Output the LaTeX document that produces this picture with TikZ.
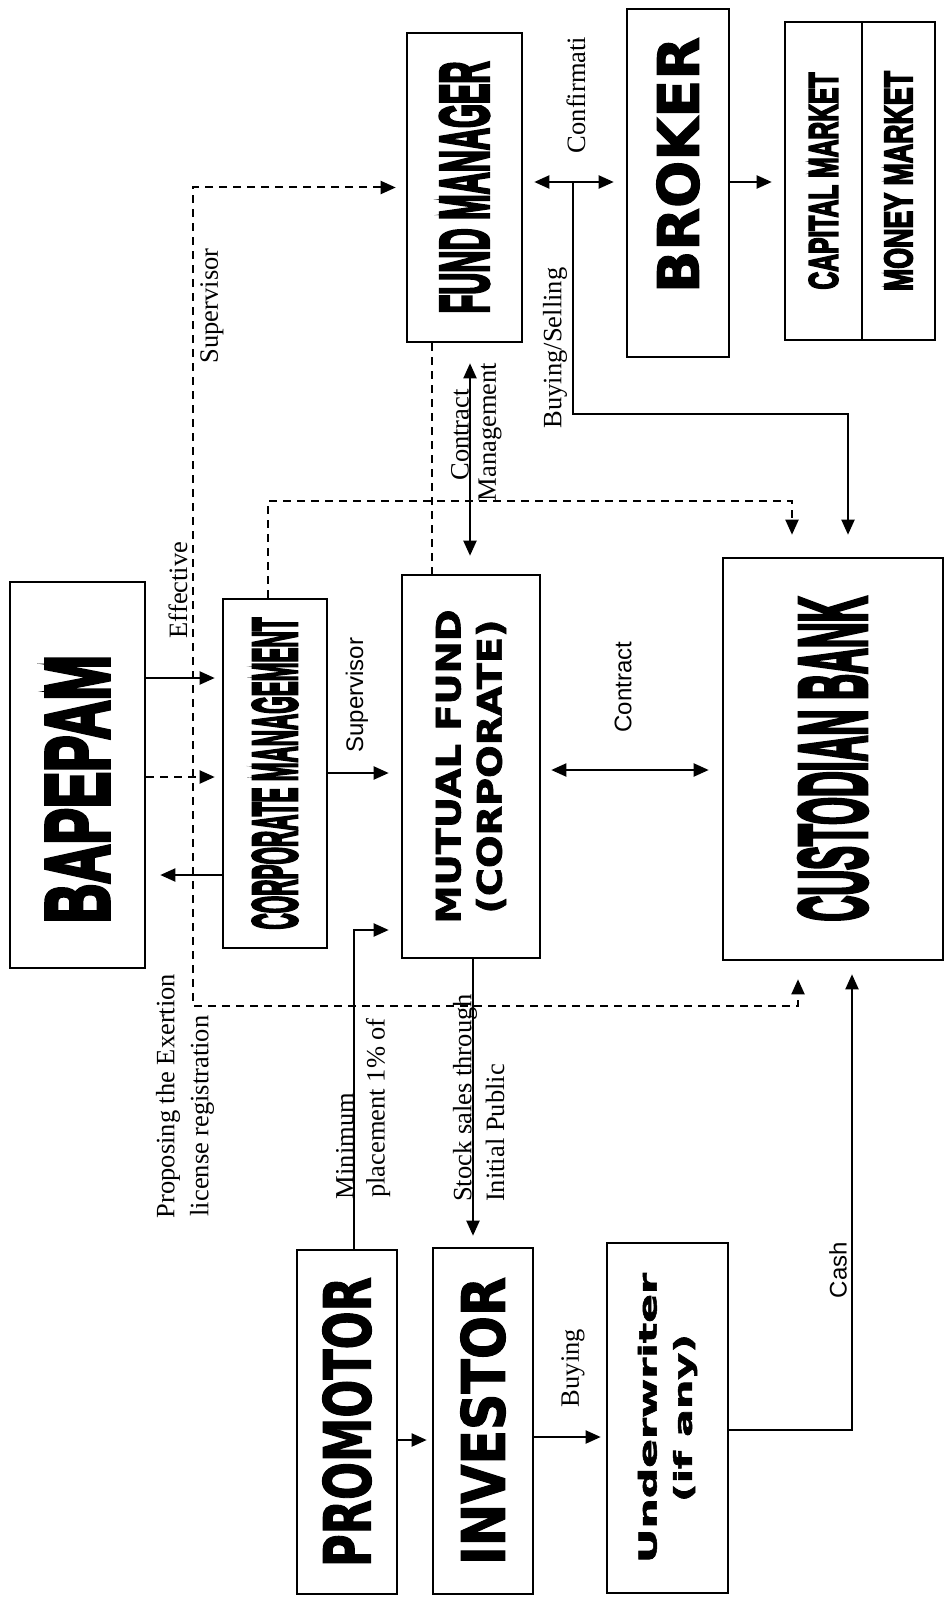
\documentclass[tikz,border=0pt]{standalone}
\usepackage{fontspec}
\setmainfont{Liberation Serif}
\setsansfont{Liberation Sans}
\newfontfamily\condfont[BoldFeatures={FakeBold=5}]{Liberation Sans}
\newfontfamily\widefont[BoldFeatures={FakeBold=2}]{DejaVu Sans}
\usetikzlibrary{arrows.meta}
\tikzset{
  >={Triangle[length=15pt,width=13pt]},
  box/.style={draw, line width=2.6pt, inner sep=0pt, anchor=center},
  lab/.style={rotate=90, inner sep=0pt, font=\fontsize{26.5}{28}\selectfont},
  slab/.style={rotate=90, inner sep=0pt, font=\sffamily\fontsize{24}{26}\selectfont},
  conn/.style={line width=2pt, ->},
  dconn/.style={line width=2pt, ->, dash pattern=on 8pt off 6pt},
  dline/.style={line width=2pt, dash pattern=on 8pt off 6pt}
}
\begin{document}
\begin{tikzpicture}[x=1pt,y=-1pt]
\fill[white] (0,0) rectangle (945,1597);
\useasboundingbox (0,0) rectangle (945,1597);

% boxes
\node[box, minimum width=135pt, minimum height=386pt] (bapepam) at (77.5,775)
  {\rotatebox{90}{\resizebox*{268pt}{62pt}{\condfont\bfseries BAPEPAM}\hspace{28pt}}};
\node[box, minimum width=104pt, minimum height=349pt] (corp) at (275,773.5)
  {\rotatebox{90}{\resizebox*{312pt}{45pt}{\condfont\bfseries CORPORATE MANAGEMENT}}};
\node[box, minimum width=115pt, minimum height=309pt] (fund) at (464.5,187.5)
  {\rotatebox{90}{\resizebox*{252pt}{49pt}{\condfont\bfseries FUND MANAGER}}};
\node[box, minimum width=102pt, minimum height=348pt] (broker) at (678,183)
  {\rotatebox{90}{\hspace{36pt}\resizebox*{256pt}{43pt}{\widefont\bfseries BROKER}}};
\node[box, minimum width=77pt, minimum height=318pt] (capital) at (823.5,181)
  {\rotatebox{90}{\resizebox*{217pt}{29pt}{\condfont\bfseries CAPITAL MARKET}}};
\node[box, minimum width=73pt, minimum height=318pt] (money) at (898.5,181)
  {\rotatebox{90}{\resizebox*{220pt}{28pt}{\condfont\bfseries MONEY MARKET}}};
\node[box, minimum width=138pt, minimum height=383pt] (mutual) at (471,766.5)
  {\rotatebox{90}{\begin{tabular}{@{}c@{}}\resizebox*{314pt}{25pt}{\widefont\bfseries MUTUAL FUND}\\[12pt]
   \resizebox*{294pt}{30pt}{\widefont\bfseries (CORPORATE)}\end{tabular}}};
\node[box, minimum width=220pt, minimum height=402pt] (custodian) at (833,759)
  {\rotatebox{90}{\resizebox*{325pt}{68pt}{\condfont\bfseries CUSTODIAN BANK}}};
\node[box, minimum width=100pt, minimum height=344pt] (promotor) at (347,1422)
  {\rotatebox{90}{\resizebox*{290pt}{49pt}{\widefont\bfseries PROMOTOR}}};
\node[box, minimum width=100pt, minimum height=346pt] (investor) at (483,1421)
  {\rotatebox{90}{\resizebox*{288pt}{45pt}{\widefont\bfseries INVESTOR}}};
\node[box, minimum width=121pt, minimum height=350pt] (underwriter) at (667.5,1418)
  {\rotatebox{90}{\begin{tabular}{@{}c@{}}\resizebox*{290pt}{19pt}{\widefont\bfseries Underwriter}\\[13pt]
   \resizebox*{168pt}{24pt}{\widefont\bfseries (if any)}\end{tabular}}};

% connectors
\draw[conn, shorten >=7pt] (bapepam.east |- 0,678) -- (corp.west |- 0,678);
\draw[dconn, shorten >=7pt] (bapepam.east |- 0,777) -- (corp.west |- 0,777);
\draw[conn, shorten >=14pt] (corp.west |- 0,875) -- (bapepam.east |- 0,875);
\draw[conn, shorten >=12pt] (corp.east |- 0,773) -- (mutual.west |- 0,773);
\draw[conn, shorten >=12pt] (promotor.north -| 354,0) |- (mutual.west |- 0,930);
\draw[conn, shorten >=11pt] (mutual.south -| 473,0) -- (investor.north -| 473,0);
\draw[conn, shorten >=5pt] (promotor.east |- 0,1440) -- (investor.west |- 0,1440);
\draw[conn, shorten >=5pt] (investor.east |- 0,1437) -- (underwriter.west |- 0,1437);
\draw[conn, shorten >=13pt] (underwriter.east |- 0,1430) -| (custodian.south -| 852,0);
\coordinate (pcorner) at (193,1006);
\draw[dconn, <->, shorten <=10pt, shorten >=18pt] (fund.west) -| (pcorner) -| (custodian.south -| 798,0);
\coordinate (ccorner) at (792,501);
\draw[dconn, shorten >=22pt] (corp.north -| 268,0) |- (ccorner) -- (custodian.north -| 792,0);
\draw[dline] (fund.south -| 432,0) -- (mutual.north -| 432,0);
\draw[conn, <->, shorten <=20pt, shorten >=18pt] (fund.south -| 470,0) -- (mutual.north -| 470,0);
\draw[conn, <->, shorten <=10pt, shorten >=13pt] (mutual.east |- 0,770) -- (custodian.west |- 0,770);
\draw[conn, <->, shorten <=11pt, shorten >=12pt] (fund.east |- 0,182) -- (broker.west |- 0,182);
\coordinate (bs) at (573,182);
\coordinate (bscorner) at (848,414);
\draw[conn, shorten >=22pt] (bs) |- (bscorner) -- (custodian.north -| 848,0);
\draw[conn, shorten >=12pt] (broker.east |- 0,182) -- (capital.west |- 0,182);

% labels
\node[lab] (l1) at (212,306) {Supervisor};
\node[lab] (l2) at (178,590) {Effective};
\node[slab] (l3) at (357,695) {Supervisor};
\node[slab] (l4) at (623,687) {Contract};
\node[lab] (l5) at (460,435) {Contract};
\node[lab] (l6) at (490,432) {Management};
\node[lab] (l7) at (555,348) {Buying/Selling};
\node[lab] (l8) at (576,95) {Confirmati};
\node[lab] (l9) at (168,1096) {Proposing the Exertion};
\node[lab] (l10) at (202,1116) {license registration};
\node[lab] (l11) at (345,1146) {Minimum};
\node[lab] (l12) at (378,1108) {placement 1\% of};
\node[lab] (l13) at (465,1098) {Stock sales through};
\node[lab] (l14) at (495,1133) {Initial Public};
\node[lab] (l15) at (573,1368) {Buying};
\node[slab] (l16) at (838,1270) {Cash};
\end{tikzpicture}
\end{document}
